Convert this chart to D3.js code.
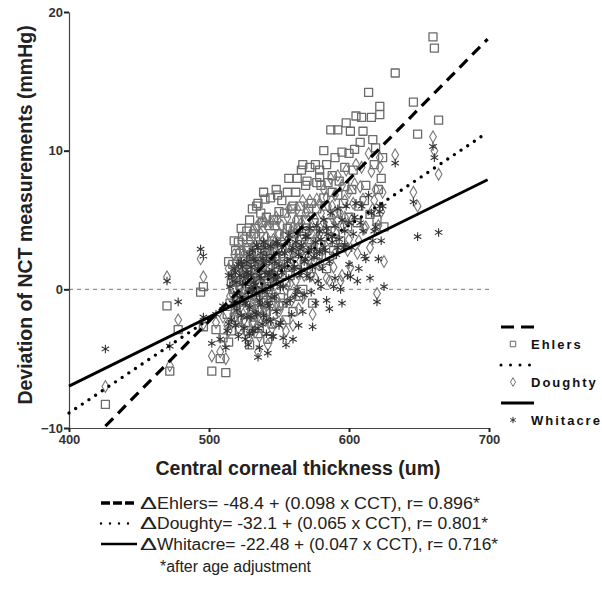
<!DOCTYPE html>
<html>
<head>
<meta charset="utf-8">
<script src="https://cdn.jsdelivr.net/npm/d3@7"></script>
<style>
  body { margin: 0; background: #fff; }
  text { font-family: "Liberation Sans", Arial, sans-serif; }
</style>
</head>
<body>
<script>
//one entry per eye: central corneal thickness and the three deviations (mmHg)
let cct = [
	426, 470, 472, 478, 494, 496, 496,
	502, 505, 508, 510, 512, 514, 515, 516, 517, 518, 519, 520, 520, 521, 522, 522, 523, 524, 525, 525,
	526, 527, 528, 528, 529, 530, 530, 531, 532, 532, 533, 534, 534, 535, 535, 536, 537, 537, 538, 539,
	540, 540, 541, 542, 543, 543, 544, 545, 545, 546, 547, 548, 549, 550, 550,
	551, 552, 553, 554, 555, 556, 557, 558, 559, 560, 560, 562, 563, 564, 565, 566, 567, 568, 569, 570,
	571, 572, 573, 574, 575, 576, 577, 578, 579, 580,
	581, 582, 583, 584, 585, 586, 587, 588, 589, 590, 591, 592, 593, 594, 595, 596, 597, 598, 599, 600,
	601, 602, 604, 605, 607, 609, 610, 612, 614, 616, 617, 619, 620, 622, 622, 623, 624, 625,
	633, 646, 649, 660, 661, 664,
	513, 514, 516, 517, 518, 519, 520, 521, 522, 523, 524, 525, 526, 526, 527, 527, 528, 529, 529, 530,
	530, 531, 531, 532, 533, 533, 534, 535, 535, 536, 536, 537, 538, 538, 539, 539, 540, 541, 541, 542,
	542, 543, 544, 544, 545, 546, 546, 547, 548, 548, 549, 550, 551, 552, 553, 554, 555, 556, 557, 558,
	559, 560, 561, 562, 563, 564, 565, 566, 567, 568, 569, 570, 572, 573, 574, 576, 577, 579, 580, 582,
	584, 586, 588, 590, 592, 595, 597, 600, 603, 606, 608, 611, 615, 618, 621
];
let ehlers = [
	-8.3, -1.2, -5.9, -2.9, -0.2, 0.2, -2.7,
	-5.9, -2.9, -5.0, -3.5, -6.0, -3.8, -1.0, 0.5, 1.8, -2.0, 2.8, -0.5, 1.2, 3.4, -2.9, 0.3, 4.4, 1.5, -1.5, 2.2,
	0.0, 3.0, -3.0, 1.0, 5.0, -1.0, 2.5, 0.8, 4.0, -2.0, 1.8, 6.0, -0.5, -3.2, 3.2, 0.5, 2.0, 5.5, -1.5, 3.8,
	1.0, 6.5, -0.8, 2.8, 4.6, 0.2, 1.5, -2.5, 3.5, 5.0, 0.8, 2.2, 6.8, -1.2, 4.0,
	1.8, 3.0, -1.0, 5.5, 0.5, 7.0, 2.5, 4.5, -0.3, 6.0, 3.5, 1.2, 8.0, 5.0, 2.8, 8.6, 0.0, 4.2, 7.5, 3.0,
	5.8, 8.8, 1.5, -1.0, 4.8, 9.0, 7.7, 2.5, 8.1, 7.5,
	3.8, 10.0, 6.0, 1.5, 7.7, 4.8, 11.5, 7.0, 2.8, 9.5, 5.5, 11.5, 7.8, 3.5, 9.9, 6.2, 8.8, 12.0, 4.5, 9.8,
	11.4, 7.2, 10.1, 12.5, 6.0, 12.4, 11.4, 7.5, 14.2, 12.4, 10.8, 10.2, 5.0, 13.2, 12.6, 8.0, 9.5, 4.5,
	15.6, 13.5, 11.2, 18.2, 17.4, 12.2,
	-1.8, 2.0, -3.0, 0.0, 3.5, -1.2, 1.8, -2.2, 2.6, -0.6, 3.8, 0.6, -2.4, 2.0, 4.2, -0.8, 2.8, 0.2, -4.0, 3.8,
	1.4, -1.8, 5.8, 2.0, -0.2, 4.4, 1.2, -1.4, 6.2, 2.6, -2.8, 0.4, 4.8, 1.6, -0.4, 7.0, 3.0, -1.6, 5.2, 0.6,
	-3.6, 3.2, 6.6, -0.6, 1.0, 2.8, -1.8, 4.6, 7.2, 0.0, 3.0, 5.6, -0.6, 6.4, 2.0, 3.8, -2.2, 4.4, 8.0, 1.0,
	5.8, -1.6, 4.0, 7.0, 2.0, -0.5, 6.0, 3.8, 9.0, 1.8, 5.0, 7.8, 3.4, 6.2, 4.0, 2.0, 5.8, 8.6, 3.2, 6.6,
	9.0, 2.4, 8.2, 4.2, 6.8, 3.0, 7.4, 5.2, 8.6, 4.8, 10.6, 6.4, 5.4, 9.0, 7.2
];
let doughty = [
	-7.0, 0.9, -5.5, -2.2, 2.2, 0.9, -2.5,
	-4.8, -2.4, -4.5, -2.0, -5.0, -3.0, -0.5, 0.8, 1.2, -1.5, 2.0, -0.8, 0.5, 2.6, -2.0, 0.0, 3.5, 1.0, -2.2, 1.6,
	-0.5, 2.0, -3.5, 0.3, 3.5, -1.5, 1.8, 0.5, 3.0, -2.4, 1.0, 4.5, -1.0, -4.5, 2.2, 0.2, 1.5, 4.0, -1.8, 2.8,
	0.5, 4.8, -1.2, 2.0, 3.4, -0.2, 0.9, -2.8, 2.5, 3.6, 0.3, 1.6, 5.0, -1.6, 2.9,
	1.2, 2.3, -2.5, 4.0, 0.0, 5.2, 1.8, 3.3, -0.8, 4.5, 2.6, 0.6, 5.8, 3.6, 2.0, 4.8, -0.6, 3.0, 5.5, 2.2,
	4.2, 6.4, 1.0, -1.8, 3.5, 5.0, 6.5, 1.8, 4.0, 5.5,
	2.8, 7.2, 4.4, 0.8, 6.0, 3.5, 8.0, 5.2, 1.6, 6.8, 4.0, 8.2, 5.6, 0.6, 7.5, 4.6, 6.4, 8.6, 2.8, 7.0,
	1.6, 5.0, 7.6, 9.0, 3.5, 8.8, 6.5, 4.5, 9.8, 8.5, 5.8, 7.2, -0.3, 9.5, 8.8, 5.6, 7.0, 2.0,
	9.7, 7.0, 6.0, 11.0, 10.0, 8.3,
	-2.6, 1.5, -2.5, -0.4, 2.5, -1.9, 1.2, -2.8, 1.8, -1.2, 2.8, 0.0, -3.0, 1.2, 3.0, -1.4, 2.0, -0.5, -3.6, 2.6,
	0.8, -2.4, 4.2, 1.4, -0.9, 3.2, 0.6, -2.0, 4.6, 1.9, -3.4, -0.2, 3.4, 1.0, -1.0, 5.0, 2.2, -2.2, 3.8, 0.0,
	-4.0, 2.4, 4.8, -1.2, 0.4, 2.0, -2.4, 3.4, 5.2, -0.6, 2.2, 4.0, -1.2, 4.6, 1.4, 2.8, -3.0, 3.2, 5.8, 0.4,
	4.2, -2.6, 2.9, 5.0, 1.2, -1.4, 4.4, 2.7, 6.4, 1.0, 3.6, 5.6, 2.2, 4.4, 3.0, 0.8, 4.2, 6.2, 1.8, 4.8,
	6.6, 0.6, 6.0, 2.6, 5.0, 1.0, 5.2, 3.6, 6.2, 2.6, 7.4, 4.4, 3.0, 6.4, 4.6
];
let whitacre = [
	-4.3, 0.6, -4.1, -0.9, 2.9, 2.4, -2.0,
	-3.9, -1.8, -3.6, -1.2, -4.2, -2.5, 0.2, 1.0, 0.6, -1.2, 1.2, -1.5, -0.3, 1.8, -1.0, -0.6, 2.0, 0.4, -2.8, 0.9,
	-1.0, 1.2, -4.0, -0.2, 2.5, -2.0, 1.0, 0.0, 2.2, -3.0, 0.3, 3.2, -1.8, -4.9, 1.5, -0.8, 0.8, 2.6, -2.5, 1.9,
	-0.2, 3.0, -2.2, 1.0, 2.0, -1.2, 0.2, -3.4, 1.4, 2.4, -0.5, 0.7, 3.3, -2.6, 1.7,
	0.2, 1.2, -3.5, 2.6, -1.0, 3.5, 0.8, 2.2, -1.8, 3.0, 1.5, -0.4, 4.0, 2.5, 1.0, 3.2, -1.6, 2.0, 3.8, 1.0,
	2.8, 4.4, -0.2, -2.7, 2.3, 3.4, 4.6, 0.6, 2.7, 3.6,
	1.5, 5.0, 2.8, -0.8, 4.0, 2.0, 5.5, 3.4, 0.2, 4.6, 2.5, 5.8, 3.6, 0.0, 5.0, 3.0, 4.2, 6.0, 1.0, 4.8,
	0.9, 3.0, 5.2, 6.2, 1.5, 6.0, 4.2, 2.2, 6.8, 5.5, 3.5, 4.5, -0.9, 6.0, 5.6, 3.5, 6.0, 0.2,
	9.1, 6.3, 3.8, 10.3, 9.5, 4.1,
	-3.0, 1.0, -2.2, -1.0, 1.5, -2.6, 0.5, -3.4, 1.0, -1.9, 1.6, -0.8, -3.6, 0.4, 2.0, -2.0, 1.1, -1.3, -3.2, 1.6,
	0.0, -3.0, 2.8, 0.5, -1.7, 2.0, -0.3, -2.8, 3.0, 1.0, -4.2, -1.1, 2.2, 0.0, -1.9, 3.4, 1.2, -3.2, 2.4, -1.0,
	-4.6, 1.2, 3.1, -2.3, -0.6, 0.9, -3.4, 2.0, 3.4, -1.6, 1.0, 2.6, -2.4, 3.0, 0.2, 1.6, -4.0, 2.0, 3.9, -0.8,
	2.8, -3.6, 1.6, 3.4, 0.0, -2.6, 2.9, 1.4, 4.4, -0.4, 2.2, 3.8, 0.8, 2.9, 1.6, -1.0, 2.6, 4.2, 0.2, 3.0,
	4.4, -1.4, 3.8, 0.8, 3.0, -1.0, 3.2, 1.8, 4.0, 0.6, 4.8, 2.4, 0.8, 4.2, 2.2
];

//regression lines as drawn: start and end thickness, intercept and slope
let fitNames = ["Ehlers", "Doughty", "Whitacre"];
let fitStart = [426, 400, 400];
let fitEnd = [699, 698, 699];
let fitIntercept = [-53.4, -36.0, -26.9];
let fitSlope = [0.1022, 0.0677, 0.0498];

let xTicks = [400, 500, 600, 700];
let yTicks = [-10, 0, 10, 20];

let equations = [
	"Ehlers= -48.4 + (0.098 x CCT), r= 0.896*",
	"Doughty= -32.1 + (0.065 x CCT), r= 0.801*",
	"Whitacre= -22.48 + (0.047 x CCT), r= 0.716*"
];
let equationWidths = [340, 348, 358]; //widths
let footnote = "*after age adjustment";

let svg = d3.select("body").append("svg")
	.attr("width", 602)
	.attr("height", 600);

let margin = {top: 12, left: 69};
let innerWidth = 420;
let innerHeight = 416;

let scaleX = d3.scaleLinear().domain([400, 700]).range([0, innerWidth]);
let scaleY = d3.scaleLinear().domain([-10, 20]).range([innerHeight, 0]);

let g = svg.append("g")
	.attr("transform", `translate(${margin.left}, ${margin.top})`);

//zero reference line
g.append("line")
	.attr("x1", scaleX(400)).attr("x2", scaleX(700))
	.attr("y1", scaleY(0)).attr("y2", scaleY(0))
	.attr("stroke", "#777")
	.attr("stroke-width", 1)
	.attr("stroke-dasharray", "4,4");

//axes
let xAxis = d3.axisBottom(scaleX).tickValues(xTicks).tickSize(4).tickSizeOuter(0);
let yAxis = d3.axisLeft(scaleY).tickValues(yTicks).tickSize(5).tickSizeOuter(0);

let xG = g.append("g")
	.attr("transform", `translate(0, ${innerHeight})`)
	.call(xAxis);
let yG = g.append("g").call(yAxis);

[xG, yG].forEach(a => {
	a.select(".domain").attr("stroke", "#444").attr("stroke-width", 1.2);
	a.selectAll(".tick line").attr("stroke", "#222").attr("stroke-width", 2);
	a.selectAll(".tick text")
		.attr("font-size", 13)
		.attr("font-weight", "bold")
		.attr("fill", "#333")
		.style("font-family", "'Liberation Sans', Arial, sans-serif");
});
xG.selectAll(".tick text").attr("y", 7).attr("dy", "0.71em");
yG.selectAll(".tick text").attr("x", -6);

//axis titles
svg.append("text")
	.attr("x", 298).attr("y", 475)
	.attr("text-anchor", "middle")
	.attr("font-size", 19.5)
	.attr("font-weight", "bold")
	.attr("fill", "#222")
	.text("Central corneal thickness (um)");

svg.append("text")
	.attr("transform", "translate(32, 215) rotate(-90)")
	.attr("text-anchor", "middle")
	.attr("font-size", 19.5)
	.attr("font-weight", "bold")
	.attr("fill", "#222")
	.text("Deviation of NCT measurements (mmHg)");

//scatter points
let rows = cct.map((c, i) => ({cct: c, e: ehlers[i], d: doughty[i], w: whitacre[i]}));

let squareSym = d3.symbol().type(d3.symbolSquare).size(64);
let diamondSym = d3.symbol().type(d3.symbolDiamond).size(40);
let starSym = d3.symbol().type(d3.symbolAsterisk).size(52);

g.selectAll(".ehlers").data(rows).enter().append("path")
	.attr("class", "ehlers")
	.attr("d", squareSym)
	.attr("transform", d => `translate(${scaleX(d.cct)}, ${scaleY(d.e)})`)
	.attr("fill", "none")
	.attr("stroke", "#6a6a6a")
	.attr("stroke-width", 1.3)
	.attr("stroke-linejoin", "round");

g.selectAll(".doughty").data(rows).enter().append("path")
	.attr("class", "doughty")
	.attr("d", diamondSym)
	.attr("transform", d => `translate(${scaleX(d.cct)}, ${scaleY(d.d)})`)
	.attr("fill", "none")
	.attr("stroke", "#777")
	.attr("stroke-width", 1.1);

g.selectAll(".whitacre").data(rows).enter().append("path")
	.attr("class", "whitacre")
	.attr("d", starSym)
	.attr("transform", d => `translate(${scaleX(d.cct)}, ${scaleY(d.w)})`)
	.attr("fill", "none")
	.attr("stroke", "#333")
	.attr("stroke-width", 1.1);

//regression lines
let lineStyles = [
	{dash: "11,7", width: 3.2, cap: "butt"},
	{dash: "0,8", width: 3.4, cap: "round"},
	{dash: null, width: 2.8, cap: "butt"}
];

fitNames.forEach((name, i) => {
	g.append("line")
		.attr("x1", scaleX(fitStart[i]))
		.attr("y1", scaleY(fitIntercept[i] + fitSlope[i] * fitStart[i]))
		.attr("x2", scaleX(fitEnd[i]))
		.attr("y2", scaleY(fitIntercept[i] + fitSlope[i] * fitEnd[i]))
		.attr("stroke", "#000")
		.attr("stroke-width", lineStyles[i].width)
		.attr("stroke-linecap", lineStyles[i].cap)
		.attr("stroke-dasharray", lineStyles[i].dash);
});

//legend on the right
let legendLine = [
	{dash: "13,7", width: 3, cap: "butt"},
	{dash: "0,9.5", width: 3, cap: "round"},
	{dash: null, width: 3, cap: "butt"}
];
let legendSym = [
	d3.symbol().type(d3.symbolSquare).size(30),
	d3.symbol().type(d3.symbolDiamond).size(22),
	d3.symbol().type(d3.symbolAsterisk).size(28)
];
let legendStroke = ["#666", "#777", "#333"];

fitNames.forEach((name, i) => {
	let top = 327 + i * 38;
	svg.append("line")
		.attr("x1", 501).attr("x2", 534)
		.attr("y1", top).attr("y2", top)
		.attr("stroke", "#000")
		.attr("stroke-width", legendLine[i].width)
		.attr("stroke-linecap", legendLine[i].cap)
		.attr("stroke-dasharray", legendLine[i].dash);
	svg.append("path")
		.attr("d", legendSym[i])
		.attr("transform", `translate(513, ${top + 17})`)
		.attr("fill", "none")
		.attr("stroke", legendStroke[i])
		.attr("stroke-width", 1);
	svg.append("text")
		.attr("x", 531).attr("y", top + 22)
		.attr("font-size", 13)
		.attr("font-weight", "bold")
		.attr("letter-spacing", 2)
		.attr("fill", "#111")
		.text(name);
});

//equations under the chart
let eqLine = [
	{dash: "9,3", width: 3.5, cap: "butt"},
	{dash: "0,9", width: 2.4, cap: "round"},
	{dash: null, width: 2.6, cap: "butt"}
];

equations.forEach((eq, i) => {
	let yy = 503 + i * 20.5;
	svg.append("line")
		.attr("x1", 101).attr("x2", 137)
		.attr("y1", yy).attr("y2", yy)
		.attr("stroke", "#000")
		.attr("stroke-width", eqLine[i].width)
		.attr("stroke-linecap", eqLine[i].cap)
		.attr("stroke-dasharray", eqLine[i].dash);
	svg.append("text")
		.attr("x", 140).attr("y", yy + 5.5)
		.attr("font-size", 17)
		.attr("textLength", 17)
		.attr("lengthAdjust", "spacingAndGlyphs")
		.attr("fill", "#222")
		.text("\u0394");
	svg.append("text")
		.attr("x", 157).attr("y", yy + 5.5)
		.attr("font-size", 16)
		.attr("textLength", equationWidths[i] - 17)
		.attr("lengthAdjust", "spacingAndGlyphs")
		.attr("fill", "#222")
		.text(eq);
});

svg.append("text")
	.attr("x", 160).attr("y", 572)
	.attr("font-size", 16)
	.attr("textLength", 151)
	.attr("lengthAdjust", "spacingAndGlyphs")
	.attr("fill", "#222")
	.text(footnote);
</script>
</body>
</html>
